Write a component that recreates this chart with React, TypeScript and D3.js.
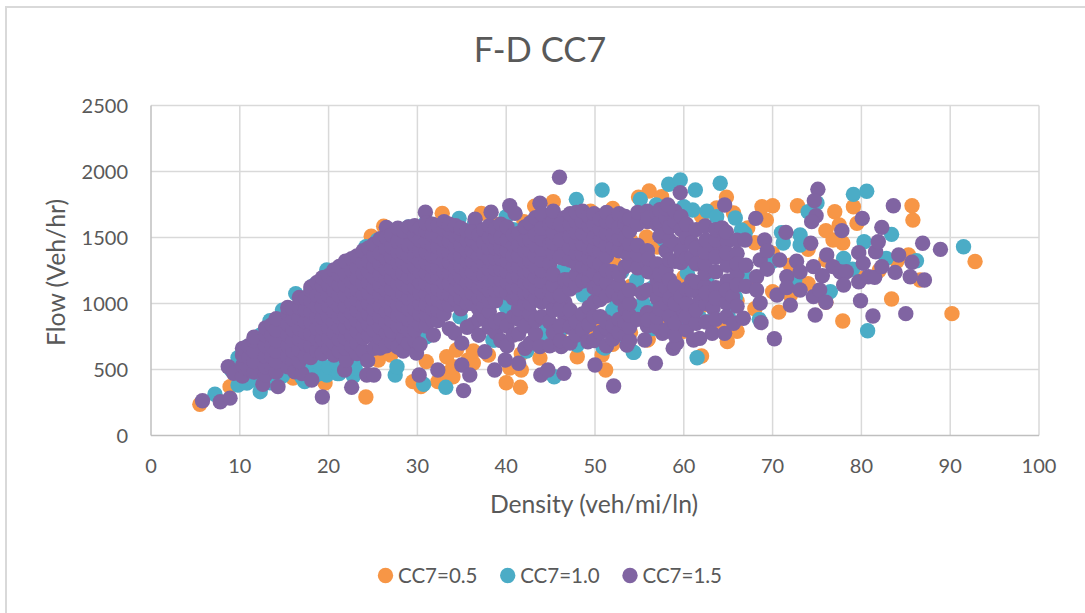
import React from "react";
import * as d3 from "d3";

const xTicks = [0, 10, 20, 30, 40, 50, 60, 70, 80, 90, 100];
const yTicks = [0, 500, 1000, 1500, 2000, 2500];
const seriesNames = ["CC7=0.5", "CC7=1.0", "CC7=1.5"];
const seriesColors = ["#f79646", "#4bacc6", "#8064a2"];

// each row: density, then the flow readings at that density
const orangeColumns: number[][] = [
  [5.5, 236], [8.9, 370], [16, 435], [19.6, 398], [24.2, 292], [25.6, 572], [29.5, 408], [30.4, 370], [32.3, 408], [33.3, 597, 470],
  [34, 445, 521], [34.4, 648], [35.7, 572], [36.3, 549, 640], [40, 400], [41.6, 365], [40.4, 511], [41.7, 496, 620], [43.8, 587], [48, 597],
  [50.8, 610], [51.2, 496], [55.9, 723], [62, 602], [64.9, 711], [70.7, 935], [77.9, 867], [83.4, 1034], [90.2, 923], [92.8, 1318], [86.6, 1178], [85.3, 1367],
  [85.7, 1741], [85.8, 1632], [72.8, 1741], [77, 1695], [79.1, 1733], [79.5, 1607], [77.5, 1595], [76, 1552], [77.9, 1458], [76.8, 1481],
  [70, 1741], [68.8, 1733], [69.3, 1632], [67, 1560], [67.2, 1572], [56.1, 1852], [54.9, 1806], [57.5, 1809], [64.8, 1806], [63.7, 1723], [65.6, 1686],
  [24.8, 1510], [26.2, 1585], [30, 1500], [32.8, 1683], [37.2, 1683], [38.5, 1610], [43.2, 1738], [45.3, 1771], [42, 1620], [49.5, 1700], [52, 1720],
  [52.2, 1306], [54, 1480, 1130, 780], [55.8, 1505], [56, 1620, 1290, 920, 730], [57, 1428], [58, 1720, 1450, 1080, 840], [60, 1550, 1200, 790], [62, 1660, 1320, 980], [64, 1440, 1100, 830],
  [66, 1310, 1020, 790], [68, 1460, 1190, 960], [70, 1380, 1090], [72, 1290, 1060], [74, 1410, 1150], [76, 1330, 1010], [78, 1280], [80, 1190], [82, 1250], [84, 1320],
  [10.4, 480], [13, 440], [15, 500], [18, 470], [22, 540], [27, 610], [31, 560], [38, 610], [46, 750], [50, 800], [52, 690, 910],
];

const tealColumns: number[][] = [
  [7.2, 312], [9, 500], [9.8, 382, 590], [10.8, 397, 670], [11.5, 420], [12.3, 332, 760], [12.5, 450], [13.4, 400, 870], [14, 420], [14.8, 450, 950], [16.3, 1075], [17, 440], [17.3, 408], [18, 500], [18.4, 450, 1140],
  [19, 470, 550], [19.8, 458, 1200, 1255], [20, 520], [21, 470, 540], [21.2, 470], [22, 520], [22.8, 450, 1340], [23, 510, 590], [24, 590], [24.2, 620, 1430], [25.5, 1480], [27.5, 458], [27.7, 521], [26.8, 1560], [29, 1580], [30.7, 388],
  [33.2, 365], [31, 748, 1620], [34.7, 1645], [34.8, 900], [36.4, 1600], [38.5, 723], [38.7, 723], [40, 975, 1658, 1004], [40.8, 1560], [42.3, 640], [44.6, 825, 740], [45.3, 800], [45.4, 445],
  [46.4, 1253], [47.9, 1789], [48, 685], [48.7, 1064], [49, 1079, 910], [46, 790], [50.8, 1860], [50.9, 670], [51.1, 663], [52, 950], [52.5, 1020, 760], [54.3, 630], [54.4, 630, 930], [54.7, 1178], [55.1, 1789], [55.4, 1004], [56.2, 950], [56.5, 1120, 810],
  [56.9, 1746], [58.3, 1903], [58.8, 850], [59.6, 1936], [57.8, 1480, 980], [60, 1733], [60.4, 1230], [61, 1708], [61.3, 1860], [61.5, 589], [61.8, 890], [60, 1720, 820], [62.6, 1700, 1180], [63.7, 1100, 1658], [64.1, 1911], [63.4, 1360, 890], [65.8, 1648, 1050],
  [66.5, 1557], [66.9, 1530, 1200], [65, 910], [71, 1537], [71.2, 1458], [73.1, 1519, 1443], [74, 1695], [75, 1761], [70, 1320], [72.5, 1180], [76.5, 1090], [78, 1342], [79, 1260],
  [80.3, 1468], [79.1, 1827], [80.6, 1850], [80.7, 794], [82.8, 1342], [83.4, 1524], [86.2, 1324], [91.5, 1430], [68.5, 880], [53, 1240], [47, 830], [50, 1230],
];

const purpleColumnsLeft: number[][] = [
  [5.8, 263], [7.8, 256], [8.9, 283], [8.7, 521], [9.3, 471],
  [10.3, 450, 530, 610, 660],
  [11, 500, 590, 680],
  [11.6, 480, 560, 640, 720, 745],
  [12.6, 388], [12.9, 460, 520, 600, 680, 760, 815],
  [13.6, 520, 600, 680, 760, 840],
  [14.3, 370], [14.1, 480, 560, 640, 720, 800, 885],
  [15.4, 520, 600, 680, 760, 845, 925, 970],
  [16, 560, 640, 720, 800, 880, 960],
  [16.2, 483], [17, 470], [16.7, 560, 650, 730, 810, 890, 970, 1045],
  [17.4, 600, 690, 780, 860, 950, 1040],
  [18.1, 420], [18, 590, 680, 770, 860, 940, 1020, 1100, 1125],
  [18.7, 640, 730, 810, 900, 980, 1060, 1160],
  [19.3, 292], [19.3, 620, 735, 815, 895, 975, 1055, 1135, 1195],
  [20, 660, 740, 820, 900, 980, 1060, 1140, 1210],
  [20.6, 610, 700, 780, 860, 940, 1020, 1100, 1180, 1255],
  [21.2, 640, 730, 820, 900, 980, 1060, 1140, 1220, 1280],
  [21.8, 496], [22, 572], [22.6, 365], [21.9, 660, 740, 820, 900, 980, 1060, 1140, 1220, 1320],
  [22.6, 680, 760, 850, 930, 1010, 1090, 1170, 1250, 1340],
  [23.2, 620, 700, 790, 870, 950, 1030, 1110, 1190, 1270, 1360],
  [23.9, 640, 740, 830, 910, 990, 1070, 1150, 1230, 1310, 1400],
  [24.4, 567], [24.3, 458], [25.1, 458], [24.5, 760, 840, 920, 1000, 1080, 1160, 1240, 1320, 1420],
  [25.1, 660, 800, 880, 960, 1040, 1120, 1200, 1280, 1360, 1450],
  [25.8, 663, 740, 820, 900, 980, 1060, 1140, 1220, 1300, 1380, 1490],
  [26.5, 1577], [26.5, 680, 780, 860, 940, 1020, 1100, 1180, 1260, 1340, 1420, 1500],
  [27.1, 710, 790, 870, 950, 1030, 1110, 1190, 1270, 1350, 1430, 1520],
  [27.8, 670, 830, 910, 990, 1070, 1150, 1230, 1310, 1390, 1470, 1570],
  [28.4, 640, 740, 830, 910, 990, 1070, 1150, 1230, 1310, 1390, 1470, 1550],
  [29, 700, 800, 880, 960, 1040, 1120, 1200, 1280, 1360, 1440, 1580],
  [29.9, 625], [30.2, 458], [29.7, 720, 800, 880, 960, 1040, 1120, 1200, 1280, 1360, 1440, 1520, 1590],
  [30.3, 690, 840, 920, 1000, 1080, 1160, 1240, 1320, 1400, 1480, 1570],
  [30.9, 1691], [31, 830, 910, 990, 1070, 1150, 1230, 1310, 1390, 1470, 1550, 1610],
  [31.7, 880, 960, 1040, 1120, 1200, 1280, 1360, 1440, 1520, 1600],
  [31.8, 761], [32.3, 496], [32.3, 870, 950, 1030, 1110, 1190, 1270, 1350, 1430, 1510, 1590],
  [33, 920, 1000, 1080, 1160, 1240, 1320, 1400, 1480, 1560, 1620],
  [33.6, 810, 990, 1070, 1150, 1230, 1310, 1390, 1470, 1550, 1600],
  [34.2, 776], [35, 534, 700], [35.2, 340], [35.9, 458], [34.3, 1030, 1110, 1190, 1270, 1350, 1430, 1510, 1590],
  [34.9, 960, 1040, 1120, 1200, 1280, 1360, 1440, 1520, 1570],
  [35.6, 820, 1000, 1080, 1160, 1240, 1320, 1400, 1480, 1550],
  [36.5, 1638], [36.2, 840, 1000, 1080, 1160, 1240, 1320, 1400, 1480, 1540],
  [36.9, 760, 880, 960, 1040, 1120, 1200, 1280, 1360, 1440, 1520],
  [37.6, 635], [37.5, 900, 980, 1060, 1140, 1220, 1300, 1380, 1460, 1560],
  [38.1, 820, 940, 1020, 1100, 1180, 1260, 1340, 1420, 1500, 1590],
  [38.3, 1691], [38.7, 496], [38.8, 780, 860, 1020, 1100, 1180, 1260, 1340, 1420, 1500, 1570],
  [39.4, 720, 880, 1100, 1180, 1260, 1340, 1420, 1500, 1600],
  [39.9, 572], [40.4, 1741], [41, 1683], [40.1, 680, 830, 1080, 1160, 1240, 1320, 1400, 1480, 1580],
  [40.8, 760, 900, 1040, 1120, 1200, 1280, 1360, 1440, 1520],
  [41.4, 547], [41.4, 770, 880, 960, 1040, 1120, 1200, 1280, 1360, 1440, 1530],
  [42.1, 660, 830, 1000, 1080, 1160, 1240, 1320, 1400, 1480, 1580],
  [42.7, 700, 920, 1000, 1080, 1160, 1240, 1320, 1400, 1480, 1610],
  [43.3, 770, 870, 1040, 1120, 1200, 1280, 1360, 1440, 1520, 1650],
  [43.9, 458], [43.8, 673, 1759], [44.7, 496], [44, 900, 1010, 1090, 1170, 1250, 1330, 1410, 1490, 1570, 1680],
  [44.9, 680, 860, 1010, 1100, 1300, 1450, 1600],
  [45.3, 780, 950, 1060, 1140, 1220, 1380, 1460, 1540, 1620, 1700],
  [46, 1956], [46.2, 673], [46.5, 471], [46.6, 900, 1010, 1100, 1180, 1340, 1420, 1500, 1580, 1650],
];

const purpleColumnsMid: number[][] = [
  [46.1, 720, 830, 960, 1060, 1350, 1480, 1600],
  [47.2, 700, 820, 950, 1110, 1180, 1330, 1420, 1510, 1600, 1680],
  [47.9, 760, 860, 1140, 1220, 1300, 1380, 1460, 1540, 1620, 1690],
  [48.6, 800, 920, 1170, 1280, 1370, 1450, 1530, 1620, 1700],
  [49.2, 710], [50, 534], [49.3, 840, 970, 1180, 1260, 1340, 1420, 1500, 1590, 1660],
  [49.9, 720, 900, 1010, 1120, 1230, 1320, 1410, 1500, 1600, 1680],
  [50.6, 780, 900, 1030, 1110, 1190, 1300, 1400, 1480, 1560, 1640],
  [51.3, 680, 810, 860, 1060, 1160, 1250, 1360, 1440, 1530, 1620, 1690],
  [52.1, 375], [52, 730, 830, 1090, 1240, 1420, 1520, 1620],
  [52.7, 780, 880, 1040, 1140, 1220, 1400, 1490, 1580, 1680],
  [53.6, 685], [53.4, 761, 850, 960, 1060, 1280, 1390, 1500, 1600, 1660],
  [53.9, 720, 820, 910, 1000, 1100, 1300, 1380, 1450, 1550, 1640],
  [55.6, 723], [55.3, 1079], [54.8, 880, 1270, 1370, 1440, 1600, 1690],
  [55.9, 830, 930, 1100, 1300, 1400, 1620, 1700],
  [56.8, 547], [57.6, 774], [56, 875, 1240, 1340, 1650],
  [57, 820, 900, 1040, 1180, 1300, 1600, 1680],
  [57.3, 960, 1110, 1220, 1510, 1620, 1710],
  [58, 800, 1000, 1120, 1250, 1400, 1530, 1650, 1720],
  [58.2, 1746], [58.8, 660], [59.2, 700, 950], [58.4, 900, 1040, 1180, 1330, 1480, 1580],
  [59, 760, 850, 1000, 1130, 1320, 1450, 1620, 1700],
  [59.6, 1840], [59.7, 1050, 1310, 1400, 1560, 1660],
  [60.3, 800, 900, 1000, 1110, 1340, 1500, 1600],
  [61.1, 723], [61.8, 736, 1027], [60.9, 1100, 1170, 1350, 1460],
  [61.4, 850, 950, 1160, 1300, 1420, 1560],
  [62.4, 1587], [62.4, 1130, 1230, 1300, 1390],
  [62.5, 860, 1000, 1080, 1480],
  [63.2, 774], [63.3, 966], [63.6, 1120, 1240, 1410, 1480],
  [63.6, 880, 1040, 1350, 1560],
  [64.6, 774, 1746], [64.3, 1572], [64.8, 1004], [64.9, 1170, 1290, 1470],
  [64.8, 900, 1100, 1380, 1540],
  [65.6, 850], [65.5, 1052], [66, 1220, 1380],
  [66, 980, 1140, 1300, 1480],
  [66.7, 888], [66.9, 1481], [67, 1290, 1130],
  [68.1, 1645], [68.2, 1203, 1102], [68.6, 1004, 1330], [68.7, 855], [69.1, 1481], [69.4, 1400, 1260],
  [70.2, 733], [70.5, 1064], [70.8, 1330], [71.5, 1539], [71.6, 1203, 1120], [72, 988], [72.7, 1320], [73.1, 1102, 1240],
  [74.6, 1052, 1279], [75.3, 1102], [74.8, 913], [76, 1009], [76.1, 1367], [76.8, 1279], [75.6, 1210], [77.6, 1240], [78.3, 1241],
];

const purpleColumnsRight: number[][] = [
  [75.1, 1865], [74.7, 1779], [74.9, 1665], [74.4, 1620], [74.3, 1456], [77.8, 1552], [78, 1140],
  [79.7, 1385, 1165], [79.9, 1021], [80.1, 1645], [80.2, 1304], [80.8, 1203], [81.3, 905], [81.5, 1198], [81.6, 1392], [81.9, 1468],
  [82.3, 1577, 1279], [83.6, 1741], [83.8, 1236], [84.2, 1367], [85, 923], [85.5, 1203], [85.7, 1312], [86.9, 1456], [87.1, 1178], [88.9, 1410],
];

type Pt = { x: number; y: number };
const flatten = (rows: number[][]): Pt[] => rows.flatMap(([x, ...ys]) => ys.map((y) => ({ x, y })));

const allSeries: Pt[][] = [
  flatten(orangeColumns),
  flatten(tealColumns),
  flatten([...purpleColumnsLeft, ...purpleColumnsMid, ...purpleColumnsRight]),
];

const font = "Lato, Carlito, sans-serif";
const ink = "#595959";

export default function App() {
  const xScale = d3.scaleLinear().domain([0, 100]).range([151, 1039]);
  const yScale = d3.scaleLinear().domain([0, 2500]).range([435.5, 105.5]);
  const legendDots = [385.5, 507.7, 630];

  return (
    <svg
      width={1085}
      height={613}
      viewBox="0 0 1085 613"
      style={{ position: "absolute", left: 0, top: 0, background: "#fff" }}
      fontFamily={font}
    >
      <path d="M6,613V7H1085" fill="none" stroke="#d9d9d9" strokeWidth={2} />
      <text x={540} y={62} textAnchor="middle" fontSize={34.5} fill={ink}>F-D CC7</text>

      {xTicks.slice(1).map((t) => (
        <line key={t} x1={xScale(t)} x2={xScale(t)} y1={yScale(2500)} y2={yScale(0)} stroke="#d9d9d9" strokeWidth={1.5} />
      ))}
      {yTicks.slice(1).map((t) => (
        <line key={t} x1={xScale(0)} x2={xScale(100)} y1={yScale(t)} y2={yScale(t)} stroke="#d9d9d9" strokeWidth={1.5} />
      ))}
      <line x1={xScale(0)} x2={xScale(0)} y1={yScale(2500)} y2={yScale(0)} stroke="#bfbfbf" strokeWidth={1.5} />
      <line x1={xScale(0)} x2={xScale(100)} y1={yScale(0)} y2={yScale(0)} stroke="#bfbfbf" strokeWidth={1.5} />

      {allSeries.map((pts, i) => (
        <g key={seriesNames[i]} fill={seriesColors[i]}>
          {pts.map((p, j) => (
            <circle key={j} cx={xScale(p.x)} cy={yScale(p.y)} r={7.7} />
          ))}
        </g>
      ))}

      {xTicks.map((t) => (
        <text key={t} x={xScale(t)} y={473} textAnchor="middle" fontSize={20} fill={ink}>{t}</text>
      ))}
      {yTicks.map((t) => (
        <text key={t} x={128} y={yScale(t) + 7.8} textAnchor="end" fontSize={20} fill={ink}>{t}</text>
      ))}
      <text x={594} y={513} textAnchor="middle" fontSize={24.7} fill={ink}>Density (veh/mi/ln)</text>
      <text transform="translate(65,272.5) rotate(-90)" textAnchor="middle" fontSize={24.7} fill={ink}>Flow (Veh/hr)</text>

      {seriesNames.map((n, i) => (
        <g key={n}>
          <circle cx={legendDots[i]} cy={575.5} r={7.7} fill={seriesColors[i]} />
          <text x={legendDots[i] + 12.5} y={582.5} fontSize={20.5} fill={ink}>{n}</text>
        </g>
      ))}
    </svg>
  );
}
